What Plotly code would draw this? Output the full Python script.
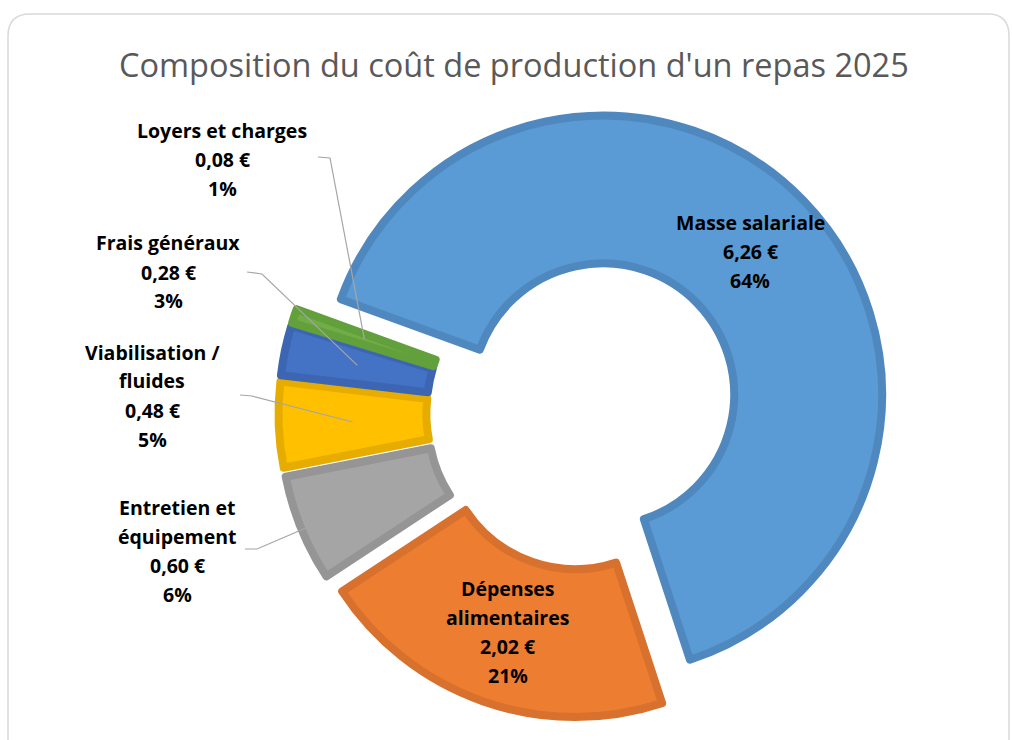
import math
import plotly.graph_objects as go

# ---------------- data ----------------
categories = ["Masse salariale", "Dépenses alimentaires", "Entretien et équipement",
              "Viabilisation / fluides", "Frais généraux", "Loyers et charges"]
label_lines = [["Masse salariale"], ["Dépenses", "alimentaires"], ["Entretien et", "équipement"],
               ["Viabilisation /", "fluides"], ["Frais généraux"], ["Loyers et charges"]]
costs = [6.26, 2.02, 0.60, 0.48, 0.28, 0.08]
fill_colors = ["#5B9BD5", "#ED7D31", "#A5A5A5", "#FFC000", "#4472C4", "#70AD47"]
border_colors = ["#4F88BF", "#D7712D", "#959595", "#E6AD00", "#3C66B2", "#62A03C"]
title_text = "Composition du coût de production d'un repas 2025"

# ---------------- layout constants ----------------
W, H = 1012, 740
CX, CY = 584, 413          # pie centre in px
R = 279                    # outer radius in px
HOLE = 0.47
PULL = 0.095
ROT = 290
FONT = "Open Sans"
LABEL_SIZE = 19.5
LINE_SP = 29

half = R * (1 + PULL)
def px(x):
    return x / W
def py(y):
    return 1 - y / H

total = sum(costs)
pcts = [round(v / total * 100) for v in costs]
def euro(v):
    return f"{v:.2f}".replace(".", ",") + " €"

# mid angles (clockwise from 12 o'clock)
mids = []
cum = 0
for v in costs:
    mids.append(ROT + (cum + v / 2) / total * 360)
    cum += v

def slice_point(i):
    a = math.radians(mids[i])
    dist = PULL * R + R * (1 + HOLE) / 2
    return CX + dist * math.sin(a), CY - dist * math.cos(a)

fig = go.Figure(go.Pie(
    labels=categories, values=costs, sort=False, direction="clockwise",
    rotation=ROT, hole=HOLE, pull=[PULL] * len(costs),
    marker=dict(colors=fill_colors, line=dict(color=border_colors, width=8)),
    textinfo="none", hoverinfo="label+value+percent", showlegend=False,
    domain=dict(x=[px(CX - half), px(CX + half)], y=[py(CY + half), py(CY - half)]),
))

annotations = []
shapes = []

def add_label(i, cx, top_y):
    lines = label_lines[i] + [euro(costs[i]), f"{pcts[i]}%"]
    for k, t in enumerate(lines):
        annotations.append(dict(
            x=px(cx), y=py(top_y + k * LINE_SP), xref="paper", yref="paper",
            text=t, showarrow=False, xanchor="center", yanchor="middle",
            font=dict(family=FONT, size=LABEL_SIZE, color="#000000", weight="bold")))

# inside labels (centred on mid-ring of slice)
for i in (0, 1):
    x, y = slice_point(i)
    n = len(label_lines[i]) + 2
    add_label(i, x, y - (n - 1) * LINE_SP / 2)

# outside labels with leader lines: (index, text centre x, first line y, stub start, stub end)
outside = [
    (5, 222, 130, (318, 157), (330, 158)),
    (4, 168, 243, (247, 272), (262, 274)),
    (3, 152, 352, (240, 395), (252, 396)),
    (2, 177, 507, (245, 549), (257, 549)),
]
for i, cx, ty, s0, s1 in outside:
    add_label(i, cx, ty)
    ex, ey = slice_point(i)
    path = (f"M {px(s0[0])},{py(s0[1])} L {px(s1[0])},{py(s1[1])} "
            f"L {px(ex)},{py(ey)}")
    shapes.append(dict(type="path", xref="paper", yref="paper", path=path,
                       line=dict(color="#A6A6A6", width=1.2), layer="above"))

# chart frame (rounded)
frame = (f"M {px(8)},{py(745)} L {px(8)},{py(36)} Q {px(8)},{py(14)} {px(30)},{py(14)} "
         f"L {px(988)},{py(14)} Q {px(1009)},{py(14)} {px(1009)},{py(36)} L {px(1009)},{py(745)}")
shapes.append(dict(type="path", xref="paper", yref="paper", path=frame,
                   line=dict(color="#D9D9D9", width=1.5), layer="below"))

annotations.append(dict(x=px(514), y=py(64), xref="paper", yref="paper", text=title_text,
                        showarrow=False, xanchor="center", yanchor="middle",
                        font=dict(family=FONT, size=32.5, color="#595959")))

fig.update_layout(
    width=W, height=H, margin=dict(l=0, r=0, t=0, b=0),
    paper_bgcolor="#FFFFFF", plot_bgcolor="#FFFFFF",
    annotations=annotations, shapes=shapes,
)
fig.write_html("out.html", config={"displayModeBar": False},
               post_script="document.body.style.margin='0';document.body.style.overflow='hidden';")
